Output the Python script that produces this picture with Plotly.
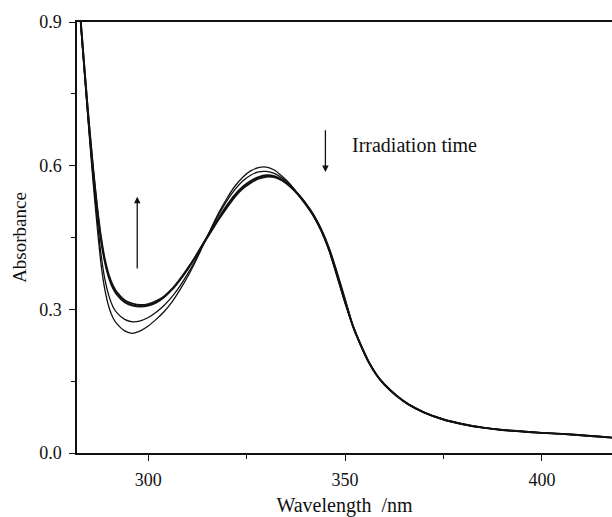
import plotly.graph_objects as go

wavelength = [282, 283, 284, 285, 286, 287, 288, 289, 290, 291, 292, 294, 296, 298,
              300, 302, 304, 306, 308, 310, 312, 314, 316, 318, 320, 322, 324, 326,
              328, 330, 332, 334, 336, 338, 340, 342, 344, 346, 348, 350, 352, 354,
              356, 358, 360, 363, 366, 370, 375, 380, 385, 390, 395, 400, 405, 410,
              415, 418]

tail = [0.265, 0.225, 0.19, 0.163, 0.143, 0.12, 0.102, 0.085, 0.070, 0.060, 0.053,
        0.048, 0.045, 0.042, 0.040, 0.037, 0.034, 0.032]

abs_t0 = [0.99, 0.88, 0.77, 0.665, 0.565, 0.475, 0.395, 0.34, 0.305, 0.283, 0.270,
          0.255, 0.250, 0.255, 0.265, 0.279, 0.295, 0.315, 0.340, 0.368, 0.400, 0.435,
          0.470, 0.503, 0.532, 0.557, 0.576, 0.589, 0.596, 0.597, 0.591, 0.578, 0.562,
          0.542, 0.522, 0.497, 0.465, 0.422, 0.367, 0.312] + tail

abs_t1 = [0.99, 0.88, 0.775, 0.67, 0.575, 0.49, 0.415, 0.362, 0.328, 0.306, 0.293,
          0.279, 0.274, 0.276, 0.283, 0.294, 0.308, 0.326, 0.348, 0.374, 0.403, 0.436,
          0.468, 0.499, 0.527, 0.550, 0.568, 0.580, 0.587, 0.588, 0.584, 0.574, 0.560,
          0.541, 0.519, 0.494, 0.462, 0.420, 0.368, 0.314] + tail

abs_t2 = [0.99, 0.885, 0.78, 0.68, 0.59, 0.51, 0.445, 0.398, 0.366, 0.345, 0.331,
          0.315, 0.308, 0.306, 0.308, 0.314, 0.325, 0.341, 0.361, 0.384, 0.410, 0.438,
          0.465, 0.492, 0.517, 0.539, 0.556, 0.568, 0.576, 0.580, 0.578, 0.570, 0.557,
          0.540, 0.519, 0.495, 0.464, 0.424, 0.372, 0.318] + tail

abs_t3 = [0.99, 0.885, 0.782, 0.683, 0.594, 0.515, 0.45, 0.403, 0.371, 0.35, 0.336,
          0.319, 0.312, 0.309, 0.311, 0.317, 0.327, 0.342, 0.362, 0.385, 0.410, 0.437,
          0.463, 0.489, 0.513, 0.535, 0.552, 0.564, 0.573, 0.577, 0.576, 0.569, 0.557,
          0.541, 0.521, 0.497, 0.466, 0.426, 0.375, 0.320] + tail

series = [abs_t0, abs_t1, abs_t2, abs_t3]
widths = [1.3, 1.3, 1.9, 1.9]

fig = go.Figure()
for ys, w in zip(series, widths):
    fig.add_trace(go.Scatter(x=wavelength, y=ys, mode="lines",
                             line=dict(color="#111111", width=w, shape="spline", smoothing=0.7),
                             showlegend=False, hoverinfo="skip"))

font_main = "Liberation Serif, Times New Roman, serif"

fig.add_annotation(x=345, y=0.587, ax=345, ay=0.677, xref="x", yref="y", axref="x", ayref="y",
                   showarrow=True, arrowhead=2, arrowsize=1, arrowwidth=1.3, arrowcolor="#111111", text="")
fig.add_annotation(x=297.2, y=0.535, ax=297.2, ay=0.382, xref="x", yref="y", axref="x", ayref="y",
                   showarrow=True, arrowhead=2, arrowsize=1, arrowwidth=1.3, arrowcolor="#111111", text="")
fig.add_annotation(x=351.3, y=0.643, xref="x", yref="y", text="Irradiation time", showarrow=False,
                   xanchor="left", yanchor="middle", font=dict(family=font_main, size=20, color="#111111"))

fig.update_layout(
    width=612, height=517,
    margin=dict(l=77, r=0, t=22, b=64),
    paper_bgcolor="white", plot_bgcolor="white",
    font=dict(family=font_main, size=18, color="#111111"),
)
fig.update_xaxes(range=[281.9, 417.8], tickmode="linear", tick0=300, dtick=50,
                 showline=True, linecolor="#111111", linewidth=1.5, mirror=True,
                 ticks="outside", ticklen=6, tickwidth=1.3, tickcolor="#111111",
                 ticklabelstandoff=4, automargin=False,
                 minor=dict(dtick=25, ticks="outside", ticklen=4, tickwidth=1.3, tickcolor="#111111"),
                 showgrid=False, zeroline=False,
                 title=dict(text="Wavelength  /nm", font=dict(size=20), standoff=14))
fig.update_yaxes(range=[0, 0.9], tickmode="linear", tick0=0, dtick=0.3, tickformat=".1f",
                 showline=True, linecolor="#111111", linewidth=1.5, mirror=False,
                 ticks="outside", ticklen=6, tickwidth=1.3, tickcolor="#111111",
                 ticklabelstandoff=4, automargin=False,
                 minor=dict(dtick=0.15, ticks="outside", ticklen=4, tickwidth=1.3, tickcolor="#111111"),
                 showgrid=False, zeroline=False,
                 title=dict(text="Absorbance", font=dict(size=19), standoff=8))

fig.write_html("out.html", config={"displayModeBar": False},
               post_script="document.body.style.margin='0px';")
